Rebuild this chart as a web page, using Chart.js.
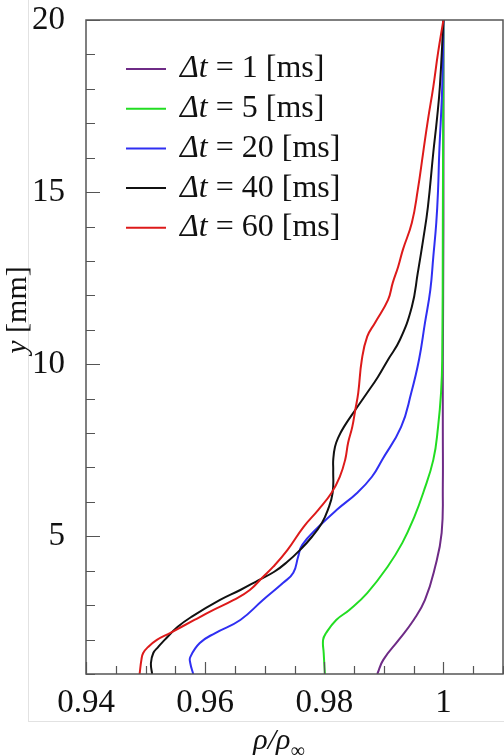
<!DOCTYPE html>
<html>
<head>
<meta charset="utf-8">
<script src="https://cdn.jsdelivr.net/npm/chart.js@4.4.1/dist/chart.umd.min.js"></script>
<style>
  body { margin: 0; background: #fff; }
  #wrap { position: relative; width: 504px; height: 755px; }
  #frame { position: absolute; left: 28px; top: 0; width: 476px; height: 722px;
           border-left: 1px solid #e2e2e2; border-bottom: 1px solid #e2e2e2; box-sizing: border-box; }
  canvas { position: absolute; left: 0; top: 0; }
</style>
</head>
<body>
<div id="wrap">
  <div id="frame"></div>
  <canvas id="profile"></canvas>
</div>
<script>
// density profiles rho/rho_inf against height y [mm]
const labels = ["Δt = 1 [ms]", "Δt = 5 [ms]", "Δt = 20 [ms]", "Δt = 40 [ms]", "Δt = 60 [ms]"];
const colors = ["#6e2b86", "#22dd22", "#2f2ff2", "#111111", "#dd1a1a"];

const dt1Y   = [1.0, 1.41, 1.99, 2.57, 3.15, 4.11, 5.10, 6.5, 8.0, 10.0, 14.0, 20.0];
const dt1Rho = [0.9889, 0.9899, 0.9925, 0.9950, 0.9969, 0.9986, 0.9997, 0.9999, 0.9999, 0.9999, 1.0, 1.0];

const dt5Y   = [1.0, 1.61, 1.99, 2.19, 2.57, 2.86, 3.35, 4.11, 4.81, 5.56, 6.26, 7.22, 8.18, 9.17, 10.13, 14.0, 20.0];
const dt5Rho = [0.9801, 0.9799, 0.9798, 0.9803, 0.9820, 0.9842, 0.9872, 0.9906, 0.9931, 0.9951, 0.9966, 0.9983, 0.9991, 0.9996, 0.9998, 0.9999, 1.0];

const dt20Y   = [1.0, 1.32, 1.49, 1.90, 2.19, 2.57, 3.15, 3.65, 3.94, 4.40, 4.75, 5.27, 5.77, 6.26, 6.73, 7.22, 8.18, 9.17, 10.13, 11.20, 12.16, 13.12, 14.11, 15.07, 16.15, 18.06, 20.0];
const dt20Rho = [0.9580, 0.9575, 0.9575, 0.9591, 0.9617, 0.9659, 0.9697, 0.9731, 0.9748, 0.9756, 0.9763, 0.9790, 0.9821, 0.9855, 0.9880, 0.9897, 0.9929, 0.9946, 0.9959, 0.9969, 0.9978, 0.9983, 0.9988, 0.9991, 0.9993, 0.9998, 1.0];

const dt40Y   = [1.0, 1.32, 1.61, 1.78, 1.99, 2.37, 2.66, 3.15, 3.44, 3.73, 3.97, 4.26, 4.60, 4.98, 5.39, 5.77, 6.26, 6.93, 7.22, 7.60, 7.89, 8.18, 8.67, 9.17, 9.63, 10.13, 10.71, 11.67, 12.66, 13.62, 14.58, 16.15, 17.10, 18.06, 20.0];
const dt40Rho = [0.9511, 0.9509, 0.9513, 0.9521, 0.9532, 0.9554, 0.9577, 0.9625, 0.9659, 0.9690, 0.9716, 0.9738, 0.9759, 0.9779, 0.9796, 0.9806, 0.9814, 0.9815, 0.9815, 0.9818, 0.9824, 0.9833, 0.9852, 0.9872, 0.9890, 0.9907, 0.9927, 0.9947, 0.9957, 0.9966, 0.9974, 0.9983, 0.9989, 0.9994, 1.0];

const dt60Y   = [1.0, 1.41, 1.61, 1.78, 1.99, 2.19, 2.57, 2.86, 3.15, 3.44, 3.82, 4.11, 4.60, 5.27, 5.77, 6.26, 6.73, 7.22, 7.72, 8.18, 8.67, 9.17, 10.13, 10.80, 11.20, 11.87, 12.37, 12.83, 13.33, 14.11, 15.07, 16.15, 17.10, 18.06, 19.05, 20.0];
const dt60Rho = [0.9490, 0.9493, 0.9496, 0.9504, 0.9519, 0.9541, 0.9582, 0.9614, 0.9648, 0.9675, 0.9697, 0.9714, 0.9738, 0.9765, 0.9790, 0.9812, 0.9826, 0.9835, 0.9840, 0.9847, 0.9852, 0.9857, 0.9863, 0.9872, 0.9885, 0.9907, 0.9915, 0.9924, 0.9932, 0.9947, 0.9957, 0.9966, 0.9974, 0.9983, 0.9991, 1.0];

const seriesY   = [dt1Y, dt5Y, dt20Y, dt40Y, dt60Y];
const seriesRho = [dt1Rho, dt5Rho, dt20Rho, dt40Rho, dt60Rho];

const xMajor = [0.94, 0.96, 0.98, 1.0];
const yMajor = [5, 10, 15, 20];

const SERIF = "'Liberation Serif', 'Times New Roman', serif";

function isMajor(v, list) {
  return list.some(m => Math.abs(v - m) < 1e-6);
}

// inward ticks, plot frame, legend and axis titles
const decorations = {
  id: "decorations",
  afterDatasetsDraw(chart) {
    const { ctx, chartArea: a, scales } = chart;
    ctx.save();

    ctx.strokeStyle = "#555";
    ctx.lineWidth = 1.5;
    ctx.strokeRect(a.left, a.top, a.right - a.left, a.bottom - a.top);

    ctx.lineWidth = 1.2;
    ctx.beginPath();
    scales.x.ticks.forEach(t => {
      const px = Math.round(scales.x.getPixelForValue(t.value)) + 0.5;
      const len = isMajor(t.value, xMajor) ? 12 : 8;
      ctx.moveTo(px, a.bottom);
      ctx.lineTo(px, a.bottom - len);
    });
    scales.y.ticks.forEach(t => {
      const py = Math.round(scales.y.getPixelForValue(t.value)) + 0.5;
      const len = isMajor(t.value, yMajor) ? 14 : 9;
      ctx.moveTo(a.left, py);
      ctx.lineTo(a.left + len, py);
    });
    ctx.stroke();

    // legend
    const fs = 32;
    chart.data.datasets.forEach((ds, i) => {
      const y = a.top + 49 + i * 39.7;
      ctx.strokeStyle = ds.borderColor;
      ctx.lineWidth = 2;
      ctx.beginPath();
      ctx.moveTo(a.left + 40, y);
      ctx.lineTo(a.left + 80, y);
      ctx.stroke();

      const parts = ds.label.split(" = ");
      ctx.fillStyle = "#111";
      ctx.textBaseline = "middle";
      let x = a.left + 94;
      ctx.font = "italic " + fs + "px " + SERIF;
      ctx.fillText(parts[0], x, y);
      x += ctx.measureText(parts[0]).width;
      ctx.font = fs + "px " + SERIF;
      ctx.fillText(" = " + parts[1], x, y);
    });

    // y title, rotated
    ctx.save();
    ctx.translate(18, 310);
    ctx.rotate(-Math.PI / 2);
    ctx.textBaseline = "middle";
    ctx.font = "italic 30px " + SERIF;
    const w1 = ctx.measureText("y").width;
    ctx.font = "30px " + SERIF;
    const w2 = ctx.measureText(" [mm]").width;
    let sx = -(w1 + w2) / 2;
    ctx.font = "italic 30px " + SERIF;
    ctx.fillText("y", sx, 0);
    ctx.font = "30px " + SERIF;
    ctx.fillText(" [mm]", sx + w1, 0);
    ctx.restore();

    // x title: rho / rho_inf
    ctx.textBaseline = "alphabetic";
    ctx.font = "italic 30px " + SERIF;
    const main = "ρ/ρ";
    const mw = ctx.measureText(main).width;
    ctx.font = "20px " + SERIF;
    const sw = ctx.measureText("∞").width;
    let tx = 279 - (mw + sw) / 2;
    ctx.font = "italic 30px " + SERIF;
    ctx.fillText(main, tx, 749);
    ctx.font = "20px " + SERIF;
    ctx.fillText("∞", tx + mw, 757);

    ctx.restore();
  }
};

const datasets = labels.map((lab, i) => ({
  label: lab,
  data: seriesY[i].map((y, k) => ({ x: seriesRho[i][k], y: y })),
  borderColor: colors[i],
  borderWidth: 2,
  pointRadius: 0,
  showLine: true,
  tension: 0.45,
  fill: false,
  order: labels.length - i
}));

new Chart(document.getElementById("profile"), {
  type: "scatter",
  data: { datasets },
  options: {
    responsive: true,
    maintainAspectRatio: false,
    animation: false,
    layout: { padding: { top: 20, right: 1, left: 0, bottom: 0 } },
    plugins: { legend: { display: false }, tooltip: { enabled: false } },
    scales: {
      x: {
        type: "linear",
        min: 0.94,
        max: 1.01,
        grid: { display: false },
        border: { display: false },
        ticks: {
          stepSize: 0.005,
          autoSkip: false,
          maxRotation: 0,
          padding: 2,
          color: "#111",
          font: { family: SERIF, size: 33 },
          callback: v => isMajor(v, xMajor) ? (Math.abs(v - 1) < 1e-6 ? "1" : v.toFixed(2)) : ""
        },
        afterFit: s => { s.height = 81; s.paddingLeft = 0; s.paddingRight = 0; }
      },
      y: {
        type: "linear",
        min: 1,
        max: 20,
        grid: { display: false },
        border: { display: false },
        ticks: {
          stepSize: 1,
          autoSkip: false,
          padding: 13,
          color: "#111",
          font: { family: SERIF, size: 33 },
          callback: v => isMajor(v, yMajor) ? String(v) : ""
        },
        afterFit: s => { s.width = 86; s.paddingTop = 0; s.paddingBottom = 0; }
      }
    }
  },
  plugins: [decorations]
});
</script>
</body>
</html>
